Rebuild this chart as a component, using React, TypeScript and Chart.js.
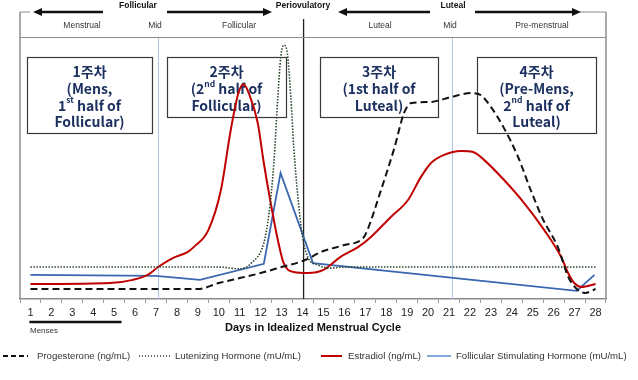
import React, { useEffect, useRef } from 'react';
import { Chart, registerables } from 'chart.js';

Chart.register(...registerables);

// ---------------- data ----------------
const dayTicks = [1, 2, 3, 4, 5, 6, 7, 8, 9, 10, 11, 12, 13, 14, 15, 16, 17, 18, 19, 20, 21, 22, 23, 24, 25, 26, 27, 28];

const midDays = [7.1, 21.15];
const ovulationDay = 14.05;
const mensesRange = [0.95, 5.35];

const seriesNames = [
  'Progesterone (ng/mL)',
  'Lutenizing Hormone (mU/mL)',
  'Estradiol (ng/mL)',
  'Follicular Stimulating Hormone (mU/mL)',
];

// [day, relative level]
const progesterone: [number, number][] = [
  [1, 3.8], [9, 3.8], [10, 6.1], [11, 8.0], [12, 9.9], [13, 12.2], [14, 14.5], [15, 18.3], [16, 20.6],
  [16.9, 23.3], [17.1, 26.3], [17.75, 41.6], [18.4, 58.0], [18.85, 71.0], [19.2, 74.8], [20.1, 75.2],
  [21.1, 77.1], [22.05, 78.6], [22.5, 77.9], [23.0, 73.3], [23.6, 65.6], [24.3, 54.2], [24.9, 41.6],
  [25.5, 30.2], [26.2, 19.8], [26.7, 8.4], [27.1, 3.8], [27.5, 2.3], [28, 3.8],
];

const lutenizing: [number, number][] = [
  [1, 12.2], [10, 12.2], [11, 11.5], [11.55, 13.7], [12.15, 21.4], [12.4, 32.8], [12.63, 51.9],
  [12.82, 77.1], [12.96, 92.4], [13.1, 96.9], [13.25, 95.0], [13.44, 77.1], [13.58, 58.0], [13.78, 38.9],
  [14.0, 23.7], [14.25, 16.0], [14.73, 13.0], [15.35, 11.8], [16, 12.2], [28, 12.2],
];

const estradiol: [number, number][] = [
  [1, 5.7], [4.8, 6.1], [5.9, 7.3], [6.6, 9.2], [7.1, 12.2], [7.8, 15.6], [8.5, 17.9], [8.8, 19.8],
  [9.5, 26.3], [10.1, 41.6], [10.57, 64.5], [10.95, 79.0], [11.19, 82.0], [11.43, 78.6], [11.86, 67.2],
  [12.15, 51.9], [12.48, 36.6], [12.82, 22.5], [13.1, 13.7], [13.58, 10.3], [14.25, 9.9], [15.0, 11.1],
  [15.8, 16.0], [16.65, 19.8], [17.27, 23.7], [18.22, 31.3], [19.04, 37.8], [19.66, 46.6], [20.14, 51.9],
  [20.76, 55.0], [21.57, 56.5], [22.15, 56.1], [22.67, 53.1], [23.63, 45.4], [24.59, 36.6], [25.55, 26.3],
  [26.36, 16.0], [26.69, 9.9], [26.98, 6.1], [27.32, 4.6], [28, 5.7],
];

const fsh: [number, number][] = [
  [1, 9.2], [7, 8.8], [9.1, 7.3], [12.15, 13.4], [12.95, 48.1], [14.5, 13.7], [27.1, 3.1], [27.95, 9.2],
];

const phaseTop = ['Follicular', 'Periovulatory', 'Luteal'];
const phaseSub = ['Menstrual', 'Mid', 'Follicular', 'Luteal', 'Mid', 'Pre-menstrual'];

type Part = { t: string; sup?: boolean };
const boxTexts: Part[][][] = [
  [[{ t: '1주차' }], [{ t: '(Mens,' }], [{ t: '1' }, { t: 'st', sup: true }, { t: ' half of' }], [{ t: 'Follicular)' }]],
  [[{ t: '2주차' }], [{ t: '(2' }, { t: 'nd', sup: true }, { t: ' half of' }], [{ t: 'Follicular)' }]],
  [[{ t: '3주차' }], [{ t: '(1st half of' }], [{ t: 'Luteal)' }]],
  [[{ t: '4주차' }], [{ t: '(Pre-Mens,' }], [{ t: '2' }, { t: 'nd', sup: true }, { t: ' half of' }], [{ t: 'Luteal)' }]],
];

// ---------------- layout constants ----------------
const FONT = "'Liberation Sans', Arial, sans-serif";
const KFONT = "'Noto Sans CJK KR', 'Liberation Sans', sans-serif";
const NAVY = '#1c3160';
const boxRects = [
  [27, 57, 125, 76],
  [167, 57, 119, 60],
  [320, 57, 118, 60],
  [477, 57, 119, 76],
];
const topLabelX = [138, 303, 453];
const subLabelX = [82, 155, 239, 380, 450, 542];

function line(ctx: CanvasRenderingContext2D, x1: number, y1: number, x2: number, y2: number) {
  ctx.beginPath();
  ctx.moveTo(x1, y1);
  ctx.lineTo(x2, y2);
  ctx.stroke();
}

function arrow(ctx: CanvasRenderingContext2D, from: number, to: number, y: number) {
  const dir = to > from ? 1 : -1;
  const head = 9;
  ctx.strokeStyle = '#111';
  ctx.fillStyle = '#111';
  ctx.lineWidth = 2.5;
  line(ctx, from, y, to - dir * head, y);
  ctx.beginPath();
  ctx.moveTo(to, y);
  ctx.lineTo(to - dir * head, y - 4);
  ctx.lineTo(to - dir * head, y + 4);
  ctx.closePath();
  ctx.fill();
}

function drawRich(ctx: CanvasRenderingContext2D, parts: Part[], cx: number, cy: number) {
  const big = `bold 14px ${KFONT}`;
  const small = `bold 8.5px ${KFONT}`;
  let w = 0;
  for (const p of parts) {
    ctx.font = p.sup ? small : big;
    w += ctx.measureText(p.t).width;
  }
  let x = cx - w / 2;
  ctx.textAlign = 'left';
  ctx.textBaseline = 'middle';
  for (const p of parts) {
    ctx.font = p.sup ? small : big;
    ctx.fillText(p.t, x, p.sup ? cy - 5 : cy);
    x += ctx.measureText(p.t).width;
  }
}

const decor = {
  id: 'decor',
  beforeDatasetsDraw(chart: any) {
    const { ctx, chartArea: ca, scales } = chart;
    const x = scales.x;
    ctx.save();
    // mid lines
    ctx.strokeStyle = '#a9c6ea';
    ctx.lineWidth = 1;
    for (const d of midDays) {
      const px = Math.round(x.getPixelForValue(d)) + 0.5;
      line(ctx, px, ca.top, px, ca.bottom);
    }
    // ovulation line
    ctx.strokeStyle = '#222';
    ctx.lineWidth = 1.3;
    const ox = x.getPixelForValue(ovulationDay);
    line(ctx, ox, 19, ox, ca.bottom);
    // boxes
    ctx.strokeStyle = '#3a3a3a';
    ctx.lineWidth = 1.2;
    ctx.fillStyle = NAVY;
    boxRects.forEach((r, i) => {
      ctx.strokeRect(r[0] + 0.5, r[1] + 0.5, r[2], r[3]);
      const cx = r[0] + r[2] / 2;
      boxTexts[i].forEach((ln, j) => drawRich(ctx, ln, cx, 72 + j * 16.6));
    });
    ctx.restore();
  },
  afterDraw(chart: any) {
    const { ctx, chartArea: ca, scales } = chart;
    const x = scales.x;
    const L = ca.left, R = ca.right, B = ca.bottom;
    ctx.save();
    // frame
    ctx.strokeStyle = '#8c8c8c';
    ctx.lineWidth = 1.5;
    line(ctx, L, 12, L, B);
    line(ctx, R, 12, R, B);
    ctx.lineWidth = 1;
    line(ctx, L, 37.5, R, 37.5);
    line(ctx, L, 12, 30, 12);
    line(ctx, 578, 12, R, 12);
    // arrows
    arrow(ctx, 103, 33, 12);
    arrow(ctx, 167, 272, 12);
    arrow(ctx, 430, 338, 12);
    arrow(ctx, 475, 581, 12);
    // header texts
    ctx.textAlign = 'center';
    ctx.textBaseline = 'middle';
    ctx.fillStyle = '#111';
    ctx.font = `bold 8.5px ${FONT}`;
    phaseTop.forEach((t, i) => ctx.fillText(t, topLabelX[i], 5.5));
    ctx.fillStyle = '#333';
    ctx.font = `8.5px ${FONT}`;
    phaseSub.forEach((t, i) => ctx.fillText(t, subLabelX[i], 26));
    // menses bar
    ctx.strokeStyle = '#111';
    ctx.lineWidth = 2.5;
    line(ctx, x.getPixelForValue(mensesRange[0]), 322, x.getPixelForValue(mensesRange[1]), 322);
    ctx.textAlign = 'left';
    ctx.fillStyle = '#333';
    ctx.font = `8px ${FONT}`;
    ctx.fillText('Menses', 30, 331);
    // legend
    const ly = 356;
    const segs = [[3, 28], [139, 170], [321, 342], [427, 451]];
    const textX = [37, 175, 348, 456];
    const legendColors = ['#111', '#333', '#c00000', '#5b8fd0'];
    const legendDash = [[5, 3], [1, 2], [], []];
    const legendWidth = [2, 1.3, 2, 1.5];
    chart.data.datasets.forEach((ds: any, i: number) => {
      ctx.strokeStyle = legendColors[i];
      ctx.lineWidth = legendWidth[i];
      ctx.setLineDash(legendDash[i]);
      line(ctx, segs[i][0], ly, segs[i][1], ly);
      ctx.setLineDash([]);
      ctx.fillStyle = '#333';
      ctx.font = `9.6px ${FONT}`;
      ctx.textAlign = 'left';
      ctx.textBaseline = 'middle';
      ctx.fillText(ds.label, textX[i], ly);
    });
    ctx.restore();
  },
};

export default function App() {
  const ref = useRef<HTMLCanvasElement>(null);
  useEffect(() => {
    if (!ref.current) return;
    const toPts = (a: [number, number][]) => a.map(([x, y]) => ({ x, y }));
    const chart = new Chart(ref.current, {
      type: 'line',
      data: {
        datasets: [
          {
            label: seriesNames[0], data: toPts(progesterone), borderColor: '#111', borderWidth: 2,
            borderDash: [7, 4], pointRadius: 0, cubicInterpolationMode: 'monotone', fill: false,
          },
          {
            label: seriesNames[1], data: toPts(lutenizing), borderColor: '#2a452a', borderWidth: 1.6,
            borderDash: [1.5, 1.5], pointRadius: 0, cubicInterpolationMode: 'monotone', fill: false,
          },
          {
            label: seriesNames[2], data: toPts(estradiol), borderColor: '#c00000', borderWidth: 2,
            pointRadius: 0, cubicInterpolationMode: 'monotone', fill: false,
          },
          {
            label: seriesNames[3], data: toPts(fsh), borderColor: '#3a68b0', borderWidth: 1.8,
            pointRadius: 0, tension: 0, fill: false,
          },
        ],
      } as any,
      options: {
        responsive: false,
        animation: false,
        events: [],
        layout: { padding: { left: 20, right: 32, top: 37, bottom: 0 } },
        plugins: { legend: { display: false }, tooltip: { enabled: false } },
        scales: {
          x: {
            type: 'linear',
            min: 0.5,
            max: 28.5,
            afterBuildTicks: (s: any) => { s.ticks = dayTicks.map((v) => ({ value: v })); },
            afterFit: (s: any) => { s.height = 81; },
            ticks: { autoSkip: false, maxRotation: 0, padding: 3, color: '#222', font: { size: 11, family: FONT } },
            grid: { offset: true, drawOnChartArea: false, drawTicks: true, tickLength: 4, color: '#999' },
            border: { display: true, color: '#8c8c8c', width: 1.5 },
            title: {
              display: true, text: 'Days in Idealized Menstrual Cycle', color: '#111',
              font: { size: 11, weight: 'bold', family: FONT }, padding: { top: 0, bottom: 45 },
            },
          },
          y: { display: false, min: 0, max: 100 },
        },
      } as any,
      plugins: [decor],
    });
    return () => chart.destroy();
  }, []);
  return (
    <div style={{ position: 'fixed', left: 0, top: 0, width: 638, height: 380, background: '#fff' }}>
      <canvas ref={ref} width={638} height={380} style={{ display: 'block' }} />
    </div>
  );
}
